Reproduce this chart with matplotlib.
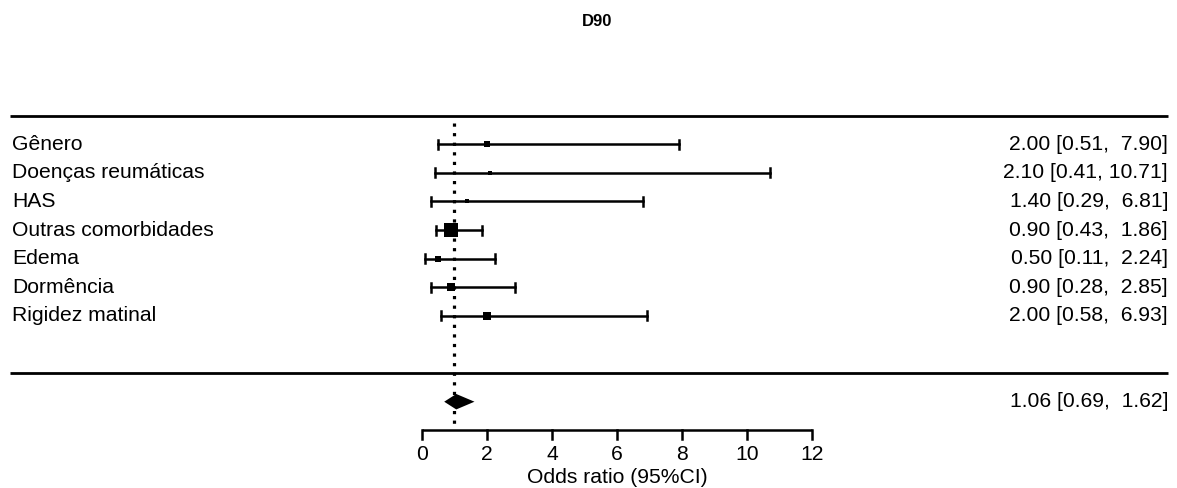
import numpy as np
import matplotlib
matplotlib.use("Agg")
import matplotlib.pyplot as plt

# forest plot data (odds ratios and 95% CI)
labels = ["Gênero", "Doenças reumáticas", "HAS", "Outras comorbidades",
          "Edema", "Dormência", "Rigidez matinal"]
odds = [2.00, 2.10, 1.40, 0.90, 0.50, 0.90, 2.00]
ci_low = [0.51, 0.41, 0.29, 0.43, 0.11, 0.28, 0.58]
ci_high = [7.90, 10.71, 6.81, 1.86, 2.24, 2.85, 6.93]

summary_or = 1.06
summary_low = 0.69
summary_high = 1.62

xticks = [0, 2, 4, 6, 8, 10, 12]
title = "D90"
xlabel = "Odds ratio (95%CI)"

plt.rcParams['font.family'] = ['Liberation Sans', 'DejaVu Sans']
FS = 15.2

fig = plt.figure(figsize=(11.77, 4.88), dpi=100)
ax = fig.add_axes([0, 0, 1, 1])
ax.set_xlim(-12.955, 23.20)
ax.set_ylim(-5.017, 12.045)
ax.axis("off")

k = len(labels)
rows = np.arange(k, 0, -1)  # 7..1

# square sizes like metafor: based on 1/se
se = (np.log(ci_high) - np.log(ci_low)) / 3.92
wi = 1 / se
psize = (wi - wi.min()) / (wi.max() - wi.min()) + 0.5

trans = ax.get_yaxis_transform()

# horizontal rules
ax.plot([0.0085, 0.9924], [k + 1, k + 1], transform=trans, color="black", lw=2.0,
        solid_capstyle="butt")
ax.plot([0.0085, 0.9924], [-1, -1], transform=trans, color="black", lw=2.0,
        solid_capstyle="butt")

# reference line at 1
ax.plot([1, 1], [k + 0.74, -2.92], color="black", lw=2.3, linestyle=(0, (1, 2)))

cap = 0.16
for r, o, lo, hi, ps, lab in zip(rows, odds, ci_low, ci_high, psize, labels):
    ax.plot([lo, hi], [r, r], color="black", lw=1.8)
    ax.plot([lo, lo], [r - cap, r + cap], color="black", lw=1.8)
    ax.plot([hi, hi], [r - cap, r + cap], color="black", lw=1.8)
    ax.plot(o, r, marker="s", color="black", markersize=ps * 6.8, markeredgewidth=0)
    ax.text(0.0102, r, lab, transform=trans, ha="left", va="center", fontsize=FS)
    ax.text(0.9924, r, f"{o:.2f} [{lo:.2f}, {hi:5.2f}]", transform=trans,
            ha="right", va="center", fontsize=FS)

# summary diamond
ys = -2
ax.fill([summary_low, summary_or, summary_high, summary_or],
        [ys, ys + 0.27, ys, ys - 0.27], color="black", lw=0)
ax.text(0.9924, ys, f"{summary_or:.2f} [{summary_low:.2f}, {summary_high:5.2f}]",
        transform=trans, ha="right", va="center", fontsize=FS)

# x axis drawn by hand
ya = -3
ax.plot([xticks[0], xticks[-1]], [ya, ya], color="black", lw=1.8, solid_capstyle="butt")
for t in xticks:
    ax.plot([t, t], [ya, ya - 0.32], color="black", lw=1.8)
    ax.text(t, ya - 0.86, str(t), ha="center", va="center", fontsize=FS)
ax.text(np.mean([xticks[0], xticks[-1]]), ya - 1.64, xlabel, ha="center", va="center",
        fontsize=FS)

fig.text(0.507, 0.956, title, ha="center", va="center", fontsize=12, fontweight="bold")

fig.savefig("out.png", dpi=100)
